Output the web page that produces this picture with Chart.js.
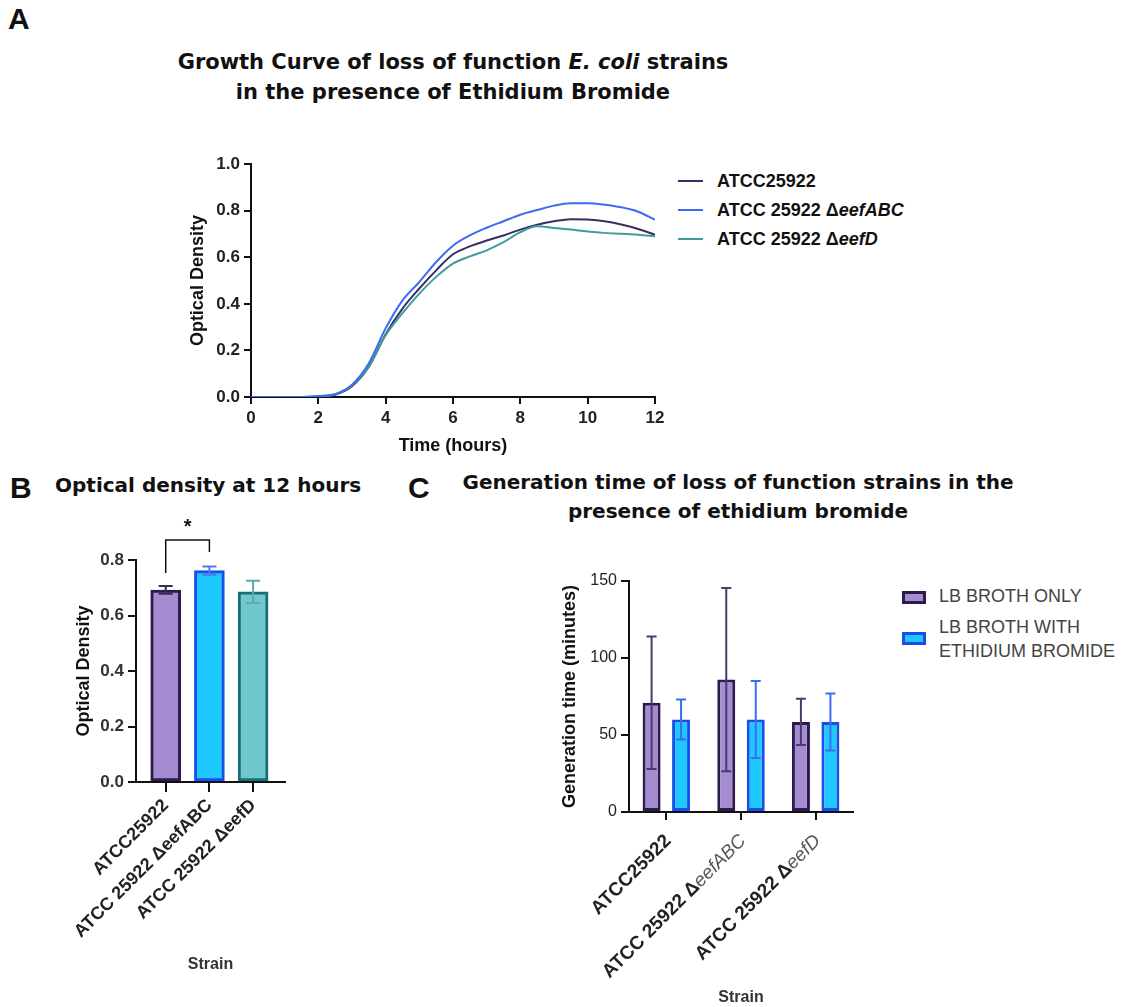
<!DOCTYPE html>
<html>
<head>
<meta charset="utf-8">
<script src="https://cdn.jsdelivr.net/npm/chart.js@4.4.1/dist/chart.umd.min.js"></script>
<style>
  body { margin: 0; background: #fff; width: 1128px; height: 1007px; position: relative; overflow: hidden;
         font-family: "Liberation Sans", Arial, sans-serif; color: #111; }
  .abs { position: absolute; white-space: nowrap; }
  .letter { font-weight: bold; font-size: 30px; line-height: 30px; }
  .ttl { font-family: "DejaVu Sans", sans-serif; font-weight: bold; color: #111; }
  canvas { position: absolute; }
  .legA { font-weight: bold; font-size: 18px; line-height: 22px; color: #111; }
  .swA { position: absolute; width: 25px; height: 2px; }
  .legC { font-size: 18px; line-height: 23.5px; color: #444; }
  .boxC { position: absolute; width: 18px; height: 7px; border: 3px solid; }
</style>
</head>
<body>

<div class="abs letter" style="left:8px;top:4px;">A</div>
<div class="abs ttl" style="left:153px;top:47px;width:600px;text-align:center;font-size:21px;line-height:30px;">
  Growth Curve of loss of function <i>E. coli</i> strains<br>in the presence of Ethidium Bromide
</div>
<canvas id="chartA" width="500" height="307" style="left:170px;top:150px;"></canvas>

<div class="swA" style="left:678px;top:180px;background:#3b2d63;"></div>
<div class="abs legA" style="left:717px;top:170px;">ATCC25922</div>
<div class="swA" style="left:678px;top:209px;background:#3b6cf2;"></div>
<div class="abs legA" style="left:717px;top:199px;">ATCC 25922 Δ<i>eefABC</i></div>
<div class="swA" style="left:678px;top:238px;background:#3d9c9c;"></div>
<div class="abs legA" style="left:717px;top:228px;">ATCC 25922 Δ<i>eefD</i></div>

<div class="abs letter" style="left:10px;top:473px;">B</div>
<div class="abs ttl" style="left:55px;top:470px;font-size:20px;line-height:30px;">Optical density at 12 hours</div>
<canvas id="chartB" width="234" height="465" style="left:66px;top:510px;"></canvas>

<div class="abs letter" style="left:408px;top:473px;">C</div>
<div class="abs ttl" style="left:438px;top:468px;width:600px;text-align:center;font-size:20px;line-height:29px;">
  Generation time of loss of function strains in the<br>presence of ethidium bromide
</div>
<canvas id="chartC" width="309" height="447" style="left:559px;top:560px;"></canvas>

<div class="boxC" style="left:902px;top:591px;background:#a58bd0;border-color:#2d1b4e;"></div>
<div class="abs legC" style="left:939px;top:585px;">LB BROTH ONLY</div>
<div class="boxC" style="left:902px;top:632px;background:#1ec8ff;border-color:#1a4ee8;"></div>
<div class="abs legC" style="left:939px;top:616px;">LB BROTH WITH<br>ETHIDIUM BROMIDE</div>

<script>
// ---- data ----
var timeHours  = [0, 0.5, 1, 1.5, 2, 2.5, 3, 3.5, 4, 4.5, 5, 5.5, 6, 6.5, 7, 7.5, 8, 8.5, 9, 9.5, 10, 10.5, 11, 11.5, 12];
var odWildType = [null, null, null, -0.004, 0.002, 0.01, 0.046, 0.13, 0.27, 0.38, 0.466, 0.544, 0.613, 0.647, 0.672, 0.694, 0.719, 0.74, 0.755, 0.764, 0.762, 0.755, 0.741, 0.722, 0.697];
var odEefABC   = [0, 0, 0, 0, 0.004, 0.012, 0.053, 0.145, 0.295, 0.415, 0.494, 0.58, 0.65, 0.694, 0.727, 0.755, 0.783, 0.803, 0.822, 0.832, 0.832, 0.826, 0.815, 0.796, 0.762];
var odEefD     = [0, 0, 0, 0, 0.003, 0.012, 0.05, 0.13, 0.265, 0.36, 0.444, 0.516, 0.573, 0.604, 0.63, 0.665, 0.708, 0.733, 0.726, 0.719, 0.711, 0.705, 0.701, 0.697, 0.69];

var strainNames = ['ATCC25922', 'ATCC 25922 ΔeefABC', 'ATCC 25922 ΔeefD'];
var od12Mean = [0.692, 0.762, 0.685];
var od12Sd   = [0.014, 0.015, 0.040];

var genLbMean   = [71, 86, 58.5];
var genLbSd     = [43, 59.5, 15];
var genEtbrMean = [60, 60, 58.5];
var genEtbrSd   = [13, 25, 18.5];

var FONT = '"Liberation Sans", Arial, sans-serif';
Chart.defaults.font.family = FONT;
Chart.defaults.color = '#222';

function xy(ys) {
  return timeHours.map(function (t, i) { return { x: t, y: ys[i] }; });
}

// error bars drawn over the bars, mean +/- sd
function makeErrorBars(sds, colors, cap, width) {
  return {
    id: 'errorBars',
    afterDatasetsDraw: function (chart) {
      var ctx = chart.ctx, ys = chart.scales.y;
      chart.data.datasets.forEach(function (ds, i) {
        var meta = chart.getDatasetMeta(i);
        meta.data.forEach(function (bar, j) {
          var v = ds.data[j];
          if (typeof v === 'object') v = v.y;
          var sd = sds[i][j];
          var top = ys.getPixelForValue(v + sd), bot = ys.getPixelForValue(v - sd);
          ctx.save();
          ctx.strokeStyle = Array.isArray(colors[i]) ? colors[i][j] : colors[i];
          ctx.lineWidth = width;
          ctx.beginPath();
          ctx.moveTo(bar.x, top); ctx.lineTo(bar.x, bot);
          ctx.moveTo(bar.x - cap, top); ctx.lineTo(bar.x + cap, top);
          ctx.moveTo(bar.x - cap, bot); ctx.lineTo(bar.x + cap, bot);
          ctx.stroke();
          ctx.restore();
        });
      });
    }
  };
}

var axisCommon = function (tickLen) {
  return {
    grid: { drawOnChartArea: false, offset: false, tickLength: tickLen, color: '#111', lineWidth: 2 },
    border: { color: '#111', width: 2 }
  };
};

// ---- A: growth curves ----
new Chart(document.getElementById('chartA'), {
  type: 'line',
  data: {
    datasets: [
      { label: 'ATCC 25922 ΔeefABC', data: xy(odEefABC), borderColor: '#3b6cf2' },
      { label: 'ATCC 25922 ΔeefD', data: xy(odEefD), borderColor: '#3d9c9c' },
      { label: 'ATCC25922', data: xy(odWildType), borderColor: '#3b2d63' }
    ]
  },
  options: {
    responsive: false, animation: false,
    layout: { padding: { top: 13, right: 15, left: 0, bottom: 0 } },
    plugins: { legend: { display: false }, tooltip: { enabled: false } },
    elements: { point: { radius: 0 }, line: { borderWidth: 2, cubicInterpolationMode: 'monotone' } },
    scales: {
      x: Object.assign(axisCommon(7), {
        type: 'linear', min: 0, max: 12,
        ticks: { stepSize: 2, maxRotation: 0, padding: 4, color: '#222', font: { size: 17, weight: 'bold' } },
        title: { display: true, text: 'Time (hours)', color: '#111', font: { size: 18, weight: 'bold' }, padding: { top: 0, bottom: 0 } },
        afterFit: function (s) { s.height = 60; }
      }),
      y: Object.assign(axisCommon(7), {
        min: 0, max: 1,
        ticks: { stepSize: 0.2, padding: 4, color: '#222', font: { size: 17, weight: 'bold' },
                 callback: function (v) { return v.toFixed(1); } },
        title: { display: true, text: 'Optical Density', color: '#111', font: { size: 18, weight: 'bold' }, padding: { top: 17, bottom: 0 } },
        afterFit: function (s) { s.width = 81; }
      })
    }
  }
});

// ---- B: OD at 12 hours ----
var bracketB = {
  id: 'bracketB',
  afterDraw: function (chart) {
    var ctx = chart.ctx, xs = chart.scales.x, ys = chart.scales.y;
    var x0 = xs.getPixelForValue(0), x1 = xs.getPixelForValue(1);
    var yTop = ys.getPixelForValue(0.872);
    ctx.save();
    ctx.strokeStyle = '#111'; ctx.lineWidth = 1.5;
    ctx.beginPath();
    ctx.moveTo(x0, ys.getPixelForValue(0.753)); ctx.lineTo(x0, yTop);
    ctx.lineTo(x1, yTop); ctx.lineTo(x1, ys.getPixelForValue(0.829));
    ctx.stroke();
    ctx.fillStyle = '#111';
    ctx.font = 'bold 20px ' + FONT;
    ctx.textAlign = 'center'; ctx.textBaseline = 'middle';
    ctx.fillText('*', (x0 + x1) / 2, ys.getPixelForValue(0.918));
    ctx.restore();
  }
};

new Chart(document.getElementById('chartB'), {
  type: 'bar',
  data: {
    datasets: [{
      data: od12Mean.map(function (v, i) { return { x: i, y: v }; }),
      backgroundColor: ['#a58bd0', '#1ec8ff', '#6ec8cc'],
      borderColor: ['#2d1b4e', '#1a4ee8', '#1a6e78'],
      borderWidth: 3, borderSkipped: false, barThickness: 30
    }]
  },
  options: {
    responsive: false, animation: false,
    layout: { padding: { top: 50, right: 15, left: 0, bottom: 0 } },
    plugins: { legend: { display: false }, tooltip: { enabled: false } },
    scales: {
      x: Object.assign(axisCommon(10), {
        type: 'linear', min: -0.68, max: 2.73, offset: false,
        afterBuildTicks: function (s) { s.ticks = [0, 1, 2].map(function (v) { return { value: v }; }); },
        ticks: { autoSkip: false, minRotation: 45, maxRotation: 45, padding: 3, color: '#222',
                 font: { size: 18, weight: 'bold' },
                 callback: function (v) { return strainNames[v]; } },
        title: { display: true, text: 'Strain', color: '#333', font: { size: 16, weight: 'bold' }, padding: { top: 0, bottom: 1 } },
        afterFit: function (s) { s.height = 193; }
      }),
      y: Object.assign(axisCommon(8), {
        min: 0, max: 0.8,
        ticks: { stepSize: 0.2, padding: 4, color: '#333', font: { size: 17, weight: 'bold' },
                 callback: function (v) { return v.toFixed(1); } },
        title: { display: true, text: 'Optical Density', color: '#111', font: { size: 18, weight: 'bold' }, padding: { top: 7, bottom: 0 } },
        afterFit: function (s) { s.width = 70; }
      })
    }
  },
  plugins: [makeErrorBars([od12Sd], [['#3a2a5c', '#4a7af0', '#5ea8ae']], 7, 2), bracketB]
});

// ---- C: generation time ----
var strainLabelsC = {
  id: 'strainLabelsC',
  afterDraw: function (chart) {
    var ctx = chart.ctx, xs = chart.scales.x;
    var bold = 'bold 19px ' + FONT, ital = 'italic 19px ' + FONT;
    strainNames.forEach(function (name, i) {
      var parts = name.split('Δ');
      var segs = parts.length > 1
        ? [[parts[0] + 'Δ', bold, '#222'], [parts[1], ital, '#555']]
        : [[name, bold, '#222']];
      ctx.save();
      var total = 0;
      segs.forEach(function (s) { ctx.font = s[1]; total += ctx.measureText(s[0]).width; });
      ctx.translate(xs.getPixelForTick(i) + 2, xs.top + 26);
      ctx.rotate(-Math.PI / 4);
      ctx.textAlign = 'left'; ctx.textBaseline = 'middle';
      var x = -total;
      segs.forEach(function (s) {
        ctx.font = s[1]; ctx.fillStyle = s[2];
        ctx.fillText(s[0], x, 0);
        x += ctx.measureText(s[0]).width;
      });
      ctx.restore();
    });
  }
};

new Chart(document.getElementById('chartC'), {
  type: 'bar',
  data: {
    labels: strainNames,
    datasets: [
      { label: 'LB BROTH ONLY', data: genLbMean, backgroundColor: '#a58bd0', borderColor: '#2d1b4e' },
      { label: 'LB BROTH WITH ETHIDIUM BROMIDE', data: genEtbrMean, backgroundColor: '#1ec8ff', borderColor: '#1a4ee8' }
    ]
  },
  options: {
    responsive: false, animation: false,
    layout: { padding: { top: 21, right: 15, left: 0, bottom: 0 } },
    plugins: { legend: { display: false }, tooltip: { enabled: false } },
    datasets: { bar: { borderWidth: 3, borderSkipped: false, categoryPercentage: 0.79, barPercentage: 0.61 } },
    scales: {
      x: Object.assign(axisCommon(8), {
        ticks: { display: false },
        title: { display: true, text: 'Strain', color: '#333', font: { size: 16, weight: 'bold' }, padding: { top: 0, bottom: 0 } },
        afterFit: function (s) { s.height = 195; }
      }),
      y: Object.assign(axisCommon(8), {
        min: 0, max: 150,
        ticks: { stepSize: 50, padding: 4, color: '#222', font: { size: 16 } },
        title: { display: true, text: 'Generation time (minutes)', color: '#111', font: { size: 18, weight: 'bold' }, padding: { top: 0, bottom: 0 } },
        afterFit: function (s) { s.width = 70; }
      })
    }
  },
  plugins: [makeErrorBars([genLbSd, genEtbrSd], ['#4a3a6e', '#3a6ef0'], 5, 2), strainLabelsC]
});
</script>
</body>
</html>
